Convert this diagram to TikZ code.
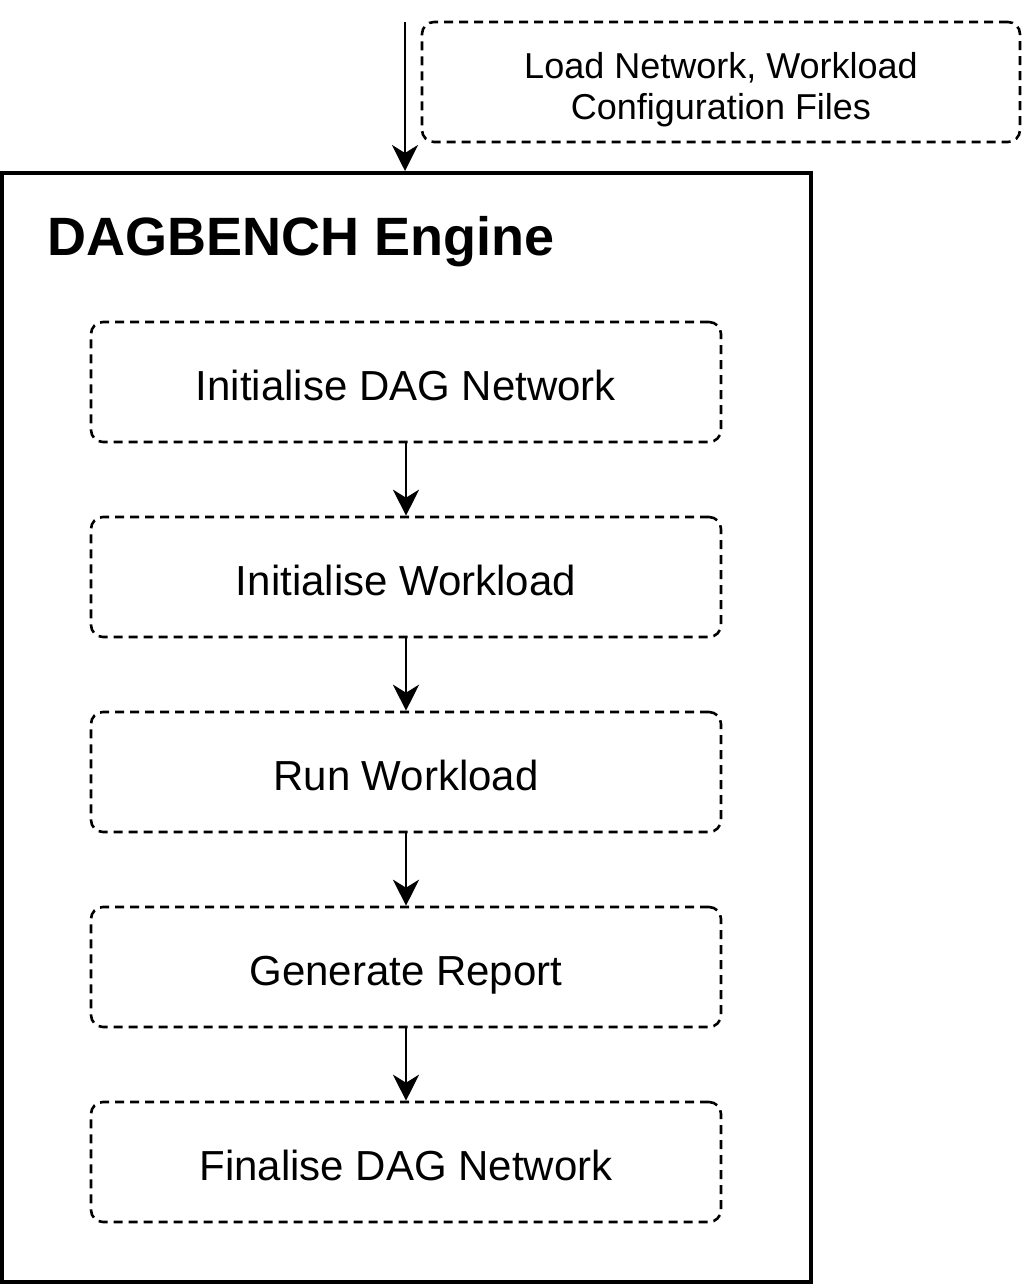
\documentclass[tikz,border=0pt]{standalone}
\usepackage{fontspec}
\setmainfont{Liberation Sans}
\usetikzlibrary{arrows.meta,positioning}

\begin{document}
\begin{tikzpicture}[x=.5pt,y=-.5pt,
    stage/.style={draw,line width=1.3pt,dash pattern=on 4.5pt off 3pt,rounded corners=6pt,
      minimum width=315pt,minimum height=60pt,inner sep=0pt,font=\fontsize{21}{24}\selectfont,
      text height=20pt,text depth=2pt},
    flow/.style={line width=1.3pt,-{Stealth[length=13pt,width=13pt,inset=4pt]}}]
      \useasboundingbox (0,0) rectangle (1023,1284);
      % engine frame
      \node[draw,line width=2pt,minimum width=404.5pt,minimum height=554.5pt,inner sep=0pt] (engine) at (406.5,727.5) {};
      \node[anchor=base west,inner sep=0pt,font=\bfseries\fontsize{27}{32}\selectfont] (title) at (47,255) {DAGBENCH Engine};
      % input files
      \node[stage,minimum width=299pt,align=center,text height=,text depth=,font=\fontsize{18}{20.5}\selectfont] (files) at (721,82)
        {\rule{0pt}{21pt}Load Network, Workload\\Configuration Files};
      \coordinate (in) at (405,22);
      \draw[flow] (in)--(in |- engine.north);
      % stages
      \node[stage] (initnet) at (406,382) {Initialise DAG Network};
      \node[stage] (initwl) at (406,577) {Initialise Workload};
      \node[stage] (runwl) at (406,772) {Run Workload};
      \node[stage] (report) at (406,967) {Generate Report};
      \node[stage] (finnet) at (406,1162) {Finalise DAG Network};
      \draw[flow] (initnet)--(initwl);
      \draw[flow] (initwl)--(runwl);
      \draw[flow] (runwl)--(report);
      \draw[flow] (report)--(finnet);
    \end{tikzpicture}
\end{document}
